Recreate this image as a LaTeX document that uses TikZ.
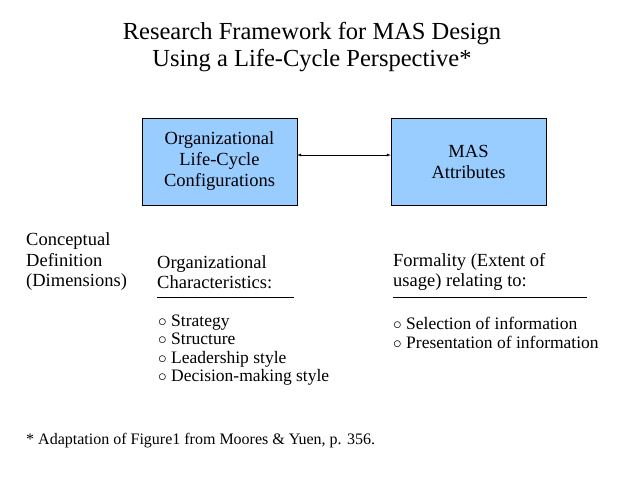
\documentclass[tikz,border=0pt]{standalone}
\usepackage{fontspec}
\setmainfont{Liberation Serif}
\usepackage{tikz}
\usetikzlibrary{arrows}
\usetikzlibrary{positioning}
\definecolor{boxblue}{RGB}{153,204,255}
\tikzstyle{every node}+=[inner sep=0pt]
\tikzstyle{stagebox}=[draw=black, fill=boxblue, minimum width=155pt, minimum height=87pt, align=center, font=\fontsize{18.5}{21}\selectfont]
\tikzstyle{txt}=[anchor=west, align=left, font=\fontsize{18.5}{20.5}\selectfont]
\tikzstyle{item}=[anchor=west, align=left, font=\fontsize{17.5}{18.3}\selectfont]
\begin{document}
\begin{tikzpicture}[x=1pt, y=-1pt]
        \useasboundingbox (0,0) rectangle (640,480);
        % title
        \node[align=center, font=\fontsize{24.5}{27}\selectfont] (title) at (312,47) {Research Framework for MAS Design\\ Using a Life-Cycle Perspective*};
        % boxes
        \node[stagebox] (olc) at (219.5,161.5) {Organizational\\ Life-Cycle\\ Configurations};
        \node[stagebox] (mas) at (468.5,161.5) {MAS\\ Attributes};
        \draw [latex-latex] (olc.east |- 0,155) -- (mas.west |- 0,155);
        % dimensions
        \node[txt] (cdef) at (26,262) {Conceptual\\ Definition\\ (Dimensions)};
        \node[txt] (orgc) at (157,272) {Organizational\\ Characteristics:};
        \node[txt] (form) at (393,272) {Formality (Extent of\\ usage) relating to:};
        \draw [black] (157,297) -- (294,297);
        \draw [black] (393,297) -- (587,297);
        % lists
        \node[item] (orgl) at (158,350) {$\circ$ Strategy\\ $\circ$ Structure\\ $\circ$ Leadership style\\ $\circ$ Decision-making style};
        \node[item] (forml) at (393,333) {$\circ$ Selection of information\\ $\circ$ Presentation of information};
        % footnote
        \node[anchor=west, font=\fontsize{16}{16}\selectfont] (note) at (26,441) {* Adaptation of Figure1 from Moores \& Yuen, p. 356.};
\end{tikzpicture}
\end{document}
